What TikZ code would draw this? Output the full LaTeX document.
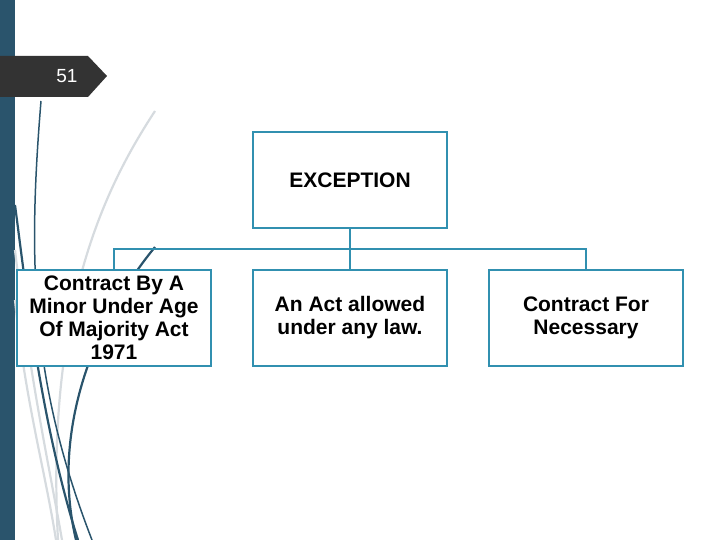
\documentclass[tikz,border=0pt]{standalone}
\usepackage{fontspec}
\setmainfont{Liberation Sans}
\usetikzlibrary{positioning}

\definecolor{barblue}{RGB}{42,84,108}
\definecolor{boxteal}{RGB}{49,144,176}
\definecolor{tabgray}{RGB}{51,51,51}
\definecolor{swirlgray}{RGB}{214,219,223}

\begin{document}
\begin{tikzpicture}[x=1pt,y=-1pt,
  box/.style={draw=boxteal, line width=2pt, fill=white,
    minimum width=194pt, minimum height=96pt, inner sep=0pt,
    align=center, font=\fontsize{21}{23}\selectfont\bfseries},
  conn/.style={draw=boxteal, line width=2pt},
  darkswirl/.style={draw=barblue, line width=2.2pt},
  greyswirl/.style={draw=swirlgray, line width=2.2pt}]

\useasboundingbox (0,0) rectangle (720,540);

% Side bar
\fill[barblue] (0,0) rectangle (15,540);

% Swirls
\draw[greyswirl] (155,111) .. controls (110,180) and (45,300) .. (58,540);
\draw[greyswirl] (15,300) .. controls (25,400) and (45,470) .. (56,540);
\draw[greyswirl] (15,250) .. controls (30,380) and (50,470) .. (62,540);
\draw[darkswirl, line width=1.5pt] (41,101) .. controls (28,260) and (30,380) .. (92,540);
\draw[darkswirl] (15,205) .. controls (25,280) and (40,420) .. (78,540);
\draw[darkswirl] (155,247) .. controls (95,320) and (50,430) .. (76,540);

% Page number tab
\fill[tabgray] (0,56) -- (88,56) -- (107,76) -- (88,97) -- (0,97) -- cycle;
\node[text=white, font=\fontsize{19}{19}\selectfont] (pagenum) at (67,76) {51};

% Boxes
\node[box] (exc) at (350,180) {EXCEPTION};
\node[box] (minor) at (114,318) {Contract By A\\Minor Under Age\\Of Majority Act\\1971};
\node[box] (act) at (350,318) {An Act allowed\\under any law.};
\node[box] (need) at (586,318) {Contract For\\Necessary};

% Connectors
\foreach \b in {minor,act,need}
  \draw[conn] (exc.south) -- ++(0,20) -| (\b.north);

\end{tikzpicture}
\end{document}
